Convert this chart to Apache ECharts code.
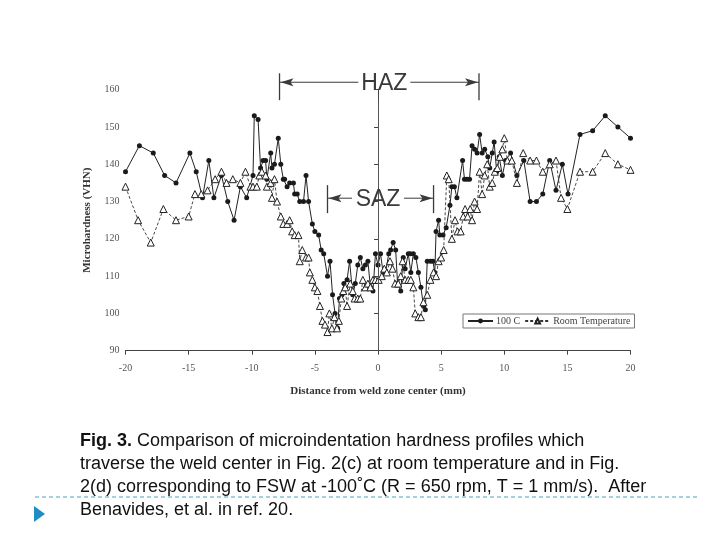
<!DOCTYPE html>
<html><head><meta charset="utf-8">
<script src="https://cdn.jsdelivr.net/npm/echarts@6/dist/echarts.min.js"></script>
<style>html,body{margin:0;padding:0;background:#fff}#c{width:720px;height:540px}</style>
</head><body><div id="c"></div>
<script>
// ---- data ----
const xTicks = [-20, -15, -10, -5, 0, 5, 10, 15, 20];
const yTicks = [90, 100, 110, 120, 130, 140, 150, 160];

const hotX = [-20,-18.9,-17.8,-16.9,-16.0,-14.9,-14.4,-13.9,-13.4,-13.0,-12.4,-11.9,-11.4,-10.9,-10.4,-9.9,-9.8,-9.5,-9.3,-9.1,-8.9,-8.8,-8.5,-8.4,-8.2,-7.9,-7.7,-7.5,-7.4,-7.2,-7.0,-6.7,-6.6,-6.4,-6.2,-5.9,-5.7,-5.5,-5.2,-5.0,-4.7,-4.5,-4.3,-4.0,-3.8,-3.6,-3.4,-3.2,-3.05,-2.85,-2.7,-2.45,-2.25,-2.0,-1.8,-1.6,-1.4,-1.2,-1.0,-0.8,-0.6,-0.4,-0.2,0.0,0.2,0.4,0.6,0.85,1.0,1.2,1.4,1.55,1.8,2.0,2.15,2.4,2.55,2.6,2.8,3.0,3.2,3.4,3.6,3.75,3.9,4.15,4.35,4.5,4.6,4.8,4.9,5.15,5.4,5.7,5.85,6.05,6.25,6.7,6.85,7.05,7.25,7.45,7.65,7.85,8.05,8.25,8.45,8.7,8.85,9.05,9.2,9.4,9.6,9.85,10.1,10.5,11.0,11.55,12.05,12.55,13.05,13.6,14.1,14.6,15.05,16.0,17.0,18.0,19.0,20.0];
const hotY = [138,145,143,137,135,143,138,131,141,131,137,130,125,134,131,137,153,152,139,141,141,136,143,139,140,147,140,136,136,134,135,135,132,132,130,130,137,130,124,122,121,117,116,110,114,105,100,96,104,105,108,109,114,105,108,113,115,112,113,114,107,106,116,113,116,111,111,116,117,119,117,108,106,115,112,116,116,111,116,115,111,107,102,101,114,114,114,111,122,125,121,121,123,129,134,134,131,141,136,136,136,145,144,143,148,143,144,142,139,143,146,138,142,137,141,143,137,141,130,130,132,141,133,140,132,148,149,153,150,147];

const roomX = [-20,-19,-18,-17,-16,-15,-14.5,-14,-13.5,-12.9,-12.4,-12,-11.5,-10.9,-10.5,-10.1,-9.9,-9.6,-9.4,-9.2,-8.9,-8.8,-8.5,-8.4,-8.2,-8.0,-7.7,-7.5,-7.2,-7.0,-6.8,-6.6,-6.3,-6.2,-6.0,-5.7,-5.5,-5.4,-5.2,-5.0,-4.8,-4.6,-4.4,-4.2,-4.0,-3.85,-3.65,-3.45,-3.25,-3.1,-2.9,-2.75,-2.6,-2.45,-2.2,-2.0,-1.85,-1.6,-1.4,-1.2,-1.0,-0.8,-0.6,-0.4,-0.2,0.05,0.3,0.5,0.7,0.95,1.15,1.35,1.6,1.8,1.95,2.15,2.4,2.6,2.8,2.95,3.2,3.4,3.6,3.9,4.15,4.4,4.6,4.8,5.0,5.2,5.45,5.6,5.85,6.1,6.3,6.55,6.75,6.9,7.1,7.3,7.45,7.65,7.85,8.05,8.25,8.45,8.65,8.85,9.05,9.25,9.45,9.65,9.85,10.0,10.25,10.6,11.0,11.5,12.05,12.55,13.05,13.6,14.1,14.5,15.0,16.0,17.0,18.0,19.0,20.0];
const roomY = [134,125,119,128,125,126,132,132,133,136,138,135,136,135,138,134,134,134,137,138,137,134,135,131,136,130,126,124,124,125,122,121,121,114,117,115,115,111,109,107,106,102,98,97,95,100,96,99,96,98,104,106,107,102,108,106,104,104,104,109,107,108,107,109,109,109,110,112,111,114,112,108,108,110,114,109,109,109,107,100,99,99,103,105,109,111,110,114,115,117,137,136,120,125,122,122,126,128,126,128,125,130,128,138,132,137,140,134,135,138,139,142,144,147,141,141,135,143,141,141,138,140,141,131,128,138,138,143,140,138.5];

const seriesNames = ['100 C', 'Room Temperature'];
const centerLineTop = 157.5;
const hazBars = [-7.8, 8.0], hazArrowY = 162.0, hazBarTop = 164.4, hazBarBottom = 157.2, hazTextX = 0.5;
const sazBars = [-4.0, 4.4], sazArrowY = 130.9, sazBarTop = 134.4, sazBarBottom = 126.9, sazTextX = 0.0;
const captionLines = [
  'traverse the weld center in Fig. 2(c) at room temperature and in Fig.',
  '2(d) corresponding to FSW at -100\u02daC (R = 650 rpm, T = 1 mm/s).  After',
  'Benavides, et al. in ref. 20.'
];

const zip = (a, b) => a.map((v, i) => [v, b[i]]);
const serif = '"Liberation Serif", "DejaVu Serif", serif';
const sans = '"Liberation Sans", Arial, sans-serif';

const chart = echarts.init(document.getElementById('c'), null, {renderer: 'canvas'});
chart.setOption({
  animation: false,
  backgroundColor: '#fff',
  grid: {left: 125.5, right: 89.5, top: 89.7, bottom: 189.3, containLabel: false},
  xAxis: {
    type: 'value', min: xTicks[0], max: xTicks[xTicks.length - 1], interval: 5,
    axisLine: {onZero: false, lineStyle: {color: '#444', width: 1}},
    axisTick: {show: true, length: 4, lineStyle: {color: '#444'}},
    splitLine: {show: false},
    axisLabel: {color: '#555', fontFamily: serif, fontSize: 10, margin: 13},
    name: 'Distance from weld zone center (mm)', nameLocation: 'middle', nameGap: 35,
    nameTextStyle: {color: '#333', fontFamily: serif, fontSize: 11, fontWeight: 'bold'}
  },
  yAxis: {
    type: 'value', min: yTicks[0], max: yTicks[yTicks.length - 1], interval: 10,
    axisLine: {show: true, lineStyle: {color: '#444', width: 1}},
    axisTick: {show: true, length: 4, lineStyle: {color: '#444'}},
    splitLine: {show: false},
    axisLabel: {color: '#555', fontFamily: serif, fontSize: 10, margin: 6},
    name: 'Microhardness (VHN)', nameLocation: 'middle', nameGap: 33,
    nameTextStyle: {color: '#333', fontFamily: serif, fontSize: 11, fontWeight: 'bold'}
  },
  legend: {
    left: 463, top: 314, orient: 'horizontal',
    padding: [2, 4], itemGap: 4, itemWidth: 25, itemHeight: 6,
    borderColor: '#777', borderWidth: 1,
    textStyle: {fontFamily: serif, fontSize: 10, color: '#444', padding: [0, 0, 0, -2]},
    data: seriesNames
  },
  series: [
    {
      name: seriesNames[0], type: 'line', data: zip(hotX, hotY),
      symbol: 'circle', symbolSize: 5,
      itemStyle: {color: '#1a1a1a', borderWidth: 0},
      lineStyle: {color: '#222', width: 1},
      z: 3,
      markLine: {
        silent: true, symbol: ['none', 'none'], label: {show: false},
        lineStyle: {color: '#555', width: 1, type: 'solid'},
        data: [[{coord: [0, yTicks[0]]}, {coord: [0, centerLineTop]}]]
      }
    },
    {
      name: seriesNames[1], type: 'line', data: zip(roomX, roomY),
      symbol: 'triangle', symbolSize: 7,
      itemStyle: {color: '#fff', borderColor: '#222', borderWidth: 1},
      lineStyle: {color: '#333', width: 0.9, type: [3, 2]},
      z: 4
    }
  ]
});

// ---- annotations positioned through the chart's own scale ----
const P = (x, y) => chart.convertToPixel({gridIndex: 0}, [x, y]);
const ink = '#3a3a3a';
function bracket(bars, ay, top, bot, tx, label, halfText) {
  const els = [];
  const L0 = P(bars[0], top), L1 = P(bars[0], bot);
  const R0 = P(bars[1], top), R1 = P(bars[1], bot);
  const A = P(bars[0], ay), B = P(bars[1], ay), T = P(tx, ay);
  const y = A[1];
  els.push({type: 'line', shape: {x1: L0[0], y1: L0[1], x2: L1[0], y2: L1[1]}, style: {stroke: ink, lineWidth: 1.3}, z: 100});
  els.push({type: 'line', shape: {x1: R0[0], y1: R0[1], x2: R1[0], y2: R1[1]}, style: {stroke: ink, lineWidth: 1.3}, z: 100});
  els.push({type: 'line', shape: {x1: A[0], y1: y, x2: T[0] - halfText - 2, y2: y}, style: {stroke: ink, lineWidth: 1}, z: 100});
  els.push({type: 'line', shape: {x1: T[0] + halfText + 2, y1: y, x2: B[0], y2: y}, style: {stroke: ink, lineWidth: 1}, z: 100});
  els.push({type: 'polygon', shape: {points: [[A[0] + 1, y], [A[0] + 14, y - 4], [A[0] + 11, y], [A[0] + 14, y + 4]]}, style: {fill: ink}, z: 100});
  els.push({type: 'polygon', shape: {points: [[B[0] - 1, y], [B[0] - 14, y - 4], [B[0] - 11, y], [B[0] - 14, y + 4]]}, style: {fill: ink}, z: 100});
  els.push({type: 'text', x: T[0], y: y + 1, style: {text: label, fill: ink, font: '23px ' + sans, textAlign: 'center', textVerticalAlign: 'middle'}, z: 100});
  return els;
}

const graphics = []
  .concat(bracket(hazBars, hazArrowY, hazBarTop, hazBarBottom, hazTextX, 'HAZ', 24))
  .concat(bracket(sazBars, sazArrowY, sazBarTop, sazBarBottom, sazTextX, 'SAZ', 24));

// caption and slide decorations
graphics.push({
  type: 'text', x: 80, y: 441,
  style: {
    text: '{b|Fig. 3.}{n| Comparison of microindentation hardness profiles which}',
    textVerticalAlign: 'middle',
    rich: {
      b: {font: 'bold 18px ' + sans, fill: '#111'},
      n: {font: '18px ' + sans, fill: '#111'}
    }
  }, z: 100
});
captionLines.forEach((t, i) => {
  graphics.push({type: 'text', x: 80, y: 464 + i * 23, style: {text: t, font: '18px ' + sans, fill: '#111', textVerticalAlign: 'middle'}, z: 100});
});
graphics.push({type: 'line', shape: {x1: 35, y1: 497, x2: 697, y2: 497}, style: {stroke: '#4aa3bf', lineWidth: 1, lineDash: [4, 3]}, z: 90});
graphics.push({type: 'polygon', shape: {points: [[34, 506], [34, 522], [45, 514]]}, style: {fill: '#1f8cc4'}, z: 100});

chart.setOption({graphic: graphics});
</script>
</body></html>
